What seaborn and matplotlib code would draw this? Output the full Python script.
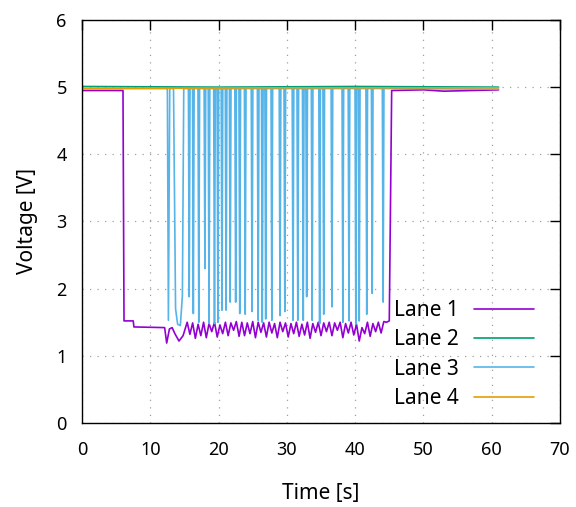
import matplotlib
matplotlib.use("Agg")
import matplotlib.pyplot as plt
import seaborn as sns

# Lane 1: output that drops to ~1.5 V while active
lane1_t = [0.0, 6.0, 6.15, 7.5, 7.6, 12.1, 12.4, 12.8, 13.2, 13.6, 14.2, 14.8,
           15.4, 15.8, 16.2, 16.6, 17.0, 17.4, 17.8, 18.2, 18.6, 19.0,
           19.4, 19.8, 20.2, 20.6, 21.0, 21.4, 21.8, 22.2, 22.6, 23.0,
           23.4, 23.8, 24.2, 24.6, 25.0, 25.4, 25.8, 26.2, 26.6, 27.0,
           27.4, 27.8, 28.2, 28.6, 29.0, 29.4, 29.8, 30.2, 30.6, 31.0,
           31.4, 31.8, 32.2, 32.6, 33.0, 33.4, 33.8, 34.2, 34.6, 35.0,
           35.4, 35.8, 36.2, 36.6, 37.0, 37.4, 37.8, 38.2, 38.6, 39.0,
           39.4, 39.8, 40.2, 40.6, 41.0, 41.4, 41.8, 42.2, 42.6, 43.0,
           43.4, 43.8, 44.2, 44.6, 45.0,
           45.35, 50.0, 53.0, 57.0, 61.0]
lane1_v = [4.95, 4.95, 1.52, 1.52, 1.43, 1.42, 1.19, 1.40, 1.42, 1.33, 1.22, 1.30,
           1.50, 1.32, 1.49, 1.26, 1.47, 1.30, 1.50, 1.27, 1.48, 1.36,
           1.50, 1.28, 1.46, 1.33, 1.50, 1.30, 1.49, 1.38, 1.51, 1.29,
           1.50, 1.30, 1.49, 1.33, 1.51, 1.27, 1.50, 1.35, 1.49, 1.28,
           1.50, 1.34, 1.48, 1.27, 1.50, 1.36, 1.49, 1.28, 1.48, 1.33,
           1.50, 1.29, 1.47, 1.31, 1.50, 1.26, 1.48, 1.35, 1.50, 1.30,
           1.49, 1.36, 1.50, 1.30, 1.49, 1.38, 1.50, 1.27, 1.48, 1.34,
           1.50, 1.31, 1.47, 1.22, 1.42, 1.33, 1.50, 1.29, 1.48, 1.36,
           1.50, 1.34, 1.51, 1.50, 1.52,
           4.95, 4.96, 4.94, 4.95, 4.96]

# Lane 2 and Lane 4: stay high the whole time
lane2_t = [0.0, 20.0, 40.0, 61.0]
lane2_v = [5.01, 5.00, 5.01, 5.00]
lane4_t = [0.0, 30.0, 61.0]
lane4_v = [4.98, 4.99, 4.99]

# Lane 3: high with many short drops
lane3_t = [0.0, 12.45,
           12.5, 12.65, 12.85,
           13.4, 13.7, 14.0, 14.4, 14.7, 14.9,
           15.58, 15.7, 15.82,
           16.18, 16.3, 16.42,
           16.98, 17.1, 17.22,
           17.88, 18.0, 18.12,
           18.48, 18.6, 18.72,
           19.28, 19.4, 19.52,
           19.78, 19.9, 20.02,
           20.38, 20.5, 20.62,
           20.98, 21.1, 21.22,
           21.58, 21.7, 21.82,
           22.38, 22.5, 22.62,
           22.98, 23.1, 23.22,
           23.78, 23.9, 24.02,
           24.78, 24.9, 25.02,
           25.68, 25.8, 25.92,
           26.28, 26.4, 26.52,
           26.78, 26.9, 27.02,
           27.68, 27.8, 27.92,
           28.88, 29.0, 29.12,
           29.58, 29.7, 29.82,
           30.78, 30.9, 31.02,
           31.48, 31.6, 31.72,
           32.28, 32.4, 32.52,
           32.78, 32.9, 33.02,
           33.58, 33.7, 33.82,
           34.68, 34.8, 34.92,
           35.28, 35.4, 35.52,
           36.48, 36.6, 36.72,
           38.08, 38.2, 38.32,
           38.98, 39.1, 39.22,
           39.98, 40.1, 40.22,
           40.48, 40.6, 40.72,
           41.58, 41.7, 41.82,
           42.38, 42.5, 42.62,
           43.98, 44.1, 44.22,
           61.0]
lane3_v = [4.98, 4.98,
           4.98, 1.53, 4.98,
           4.98, 1.70, 1.47, 1.45, 1.90, 4.98,
           4.98, 1.88, 4.98,
           4.98, 1.63, 4.98,
           4.98, 1.50, 4.98,
           4.98, 2.30, 4.98,
           4.98, 1.48, 4.98,
           4.98, 1.48, 4.98,
           4.98, 1.50, 4.98,
           4.98, 1.68, 4.98,
           4.98, 1.68, 4.98,
           4.98, 1.80, 4.98,
           4.98, 1.80, 4.98,
           4.98, 1.63, 4.98,
           4.98, 1.62, 4.98,
           4.98, 1.66, 4.98,
           4.98, 1.53, 4.98,
           4.98, 1.50, 4.98,
           4.98, 1.55, 4.98,
           4.98, 1.53, 4.98,
           4.98, 1.60, 4.98,
           4.98, 1.66, 4.98,
           4.98, 1.53, 4.98,
           4.98, 1.53, 4.98,
           4.98, 1.53, 4.98,
           4.98, 1.88, 4.98,
           4.98, 1.53, 4.98,
           4.98, 1.48, 4.98,
           4.98, 1.62, 4.98,
           4.98, 1.73, 4.98,
           4.98, 1.50, 4.98,
           4.98, 1.52, 4.98,
           4.98, 1.47, 4.98,
           4.98, 1.52, 4.98,
           4.98, 1.62, 4.98,
           4.98, 1.93, 4.98,
           4.98, 1.80, 4.98,
           4.97]

lanes = ["Lane 1", "Lane 2", "Lane 3", "Lane 4"]
colors = ["#9400d3", "#009e73", "#56b4e9", "#e69f00"]

sns.set_style("white")
plt.rcParams["font.family"] = ["Noto Sans", "DejaVu Sans"]
plt.rcParams["text.color"] = "black"
plt.rcParams["axes.labelcolor"] = "black"
plt.rcParams["xtick.color"] = "black"
plt.rcParams["ytick.color"] = "black"

fig = plt.figure(figsize=(5.76, 5.07), dpi=100)
ax = fig.add_axes([0.1424, 0.1657, 0.8298, 0.7949])

series = [(lane1_t, lane1_v), (lane2_t, lane2_v), (lane3_t, lane3_v), (lane4_t, lane4_v)]
for (t, v), name, c in zip(series, lanes, colors):
    sns.lineplot(x=t, y=v, ax=ax, color=c, lw=1.2, label=name,
                 sort=False, estimator=None)

ax.set_xlim(0, 70)
ax.set_ylim(0, 6)
ax.set_xticks(range(0, 71, 10))
ax.set_yticks(range(0, 7))
ax.set_xlabel("Time [s]", fontsize=15, labelpad=17)
ax.set_ylabel("Voltage [V]", fontsize=15, labelpad=13)
ax.tick_params(direction="in", length=7, width=1, top=True, right=True,
               labelsize=13)
ax.tick_params(axis="x", pad=13)
ax.tick_params(axis="y", pad=11)
for s in ax.spines.values():
    s.set_color("black")
    s.set_linewidth(1)
ax.grid(True, color="#a0a0a0", linestyle=(0, (1, 5)), linewidth=0.9)

ax.legend(loc="lower right", bbox_to_anchor=(0.946, 0.035), frameon=False,
          markerfirst=False, fontsize=15, handlelength=2.9, handletextpad=0.7,
          labelspacing=0.4, borderpad=0, borderaxespad=0)

fig.savefig("out.png", dpi=100)
